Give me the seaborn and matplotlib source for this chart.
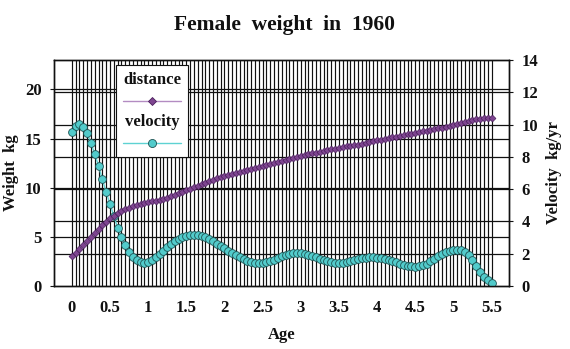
import numpy as np
import seaborn as sns
import matplotlib.pyplot as plt
from matplotlib.lines import Line2D
from matplotlib.offsetbox import AnchoredOffsetbox, VPacker, TextArea, DrawingArea

# ages every 0.05 yr from birth to 5.5 yr (111 categories)
ages = np.round(np.arange(111) * 0.05, 2)

# weight in kg (left axis)
distance = [
    3.05, 3.40, 3.80, 4.20, 4.60, 5.00, 5.40, 5.80, 6.20, 6.55,
    6.90, 7.15, 7.40, 7.60, 7.80, 7.95, 8.10, 8.20, 8.30, 8.40,
    8.50, 8.60, 8.70, 8.80, 8.90, 9.00, 9.15, 9.30, 9.45, 9.60,
    9.75, 9.90, 10.05, 10.20, 10.35, 10.50, 10.65, 10.80, 10.95, 11.05,
    11.20, 11.30, 11.40, 11.50, 11.60, 11.70, 11.80, 11.90, 12.00, 12.10,
    12.20, 12.30, 12.40, 12.50, 12.60, 12.70, 12.80, 12.90, 13.00, 13.10,
    13.20, 13.30, 13.40, 13.50, 13.55, 13.65, 13.75, 13.80, 13.90, 13.95,
    14.05, 14.10, 14.20, 14.25, 14.35, 14.40, 14.50, 14.60, 14.65, 14.75,
    14.85, 14.90, 15.00, 15.05, 15.15, 15.20, 15.30, 15.35, 15.45, 15.50,
    15.60, 15.65, 15.75, 15.80, 15.90, 15.95, 16.05, 16.10, 16.20, 16.25,
    16.35, 16.45, 16.55, 16.65, 16.75, 16.85, 16.95, 17.00, 17.05, 17.05,
    17.10,
]

# velocity in kg/yr (right axis)
velocity = [
    9.56, 9.90, 10.03, 9.87, 9.46, 8.84, 8.18, 7.43, 6.61, 5.80,
    5.08, 4.34, 3.61, 3.06, 2.54, 2.13, 1.82, 1.61, 1.49, 1.45,
    1.49, 1.61, 1.78, 1.98, 2.19, 2.40, 2.60, 2.79, 2.93, 3.04,
    3.10, 3.14, 3.15, 3.14, 3.10, 3.01, 2.89, 2.77, 2.62, 2.48,
    2.33, 2.19, 2.04, 1.90, 1.78, 1.65, 1.55, 1.49, 1.45, 1.42,
    1.45, 1.49, 1.55, 1.63, 1.73, 1.84, 1.92, 1.98, 2.02, 2.04,
    2.02, 1.98, 1.92, 1.86, 1.78, 1.69, 1.63, 1.55, 1.49, 1.45,
    1.42, 1.45, 1.49, 1.55, 1.61, 1.67, 1.71, 1.76, 1.78, 1.78,
    1.76, 1.73, 1.69, 1.63, 1.55, 1.47, 1.38, 1.32, 1.26, 1.22,
    1.20, 1.22, 1.28, 1.38, 1.53, 1.69, 1.86, 1.98, 2.11, 2.19,
    2.23, 2.25, 2.21, 2.13, 1.92, 1.61, 1.26, 0.89, 0.58, 0.35,
    0.20,
]

x_ticks = [0, 0.5, 1, 1.5, 2, 2.5, 3, 3.5, 4, 4.5, 5, 5.5]
x_tick_labels = ['0', '0.5', '1', '1.5', '2', '2.5', '3', '3.5', '4', '4.5', '5', '5.5']
left_ticks = [0, 5, 10, 15, 20]
right_ticks = [0, 2, 4, 6, 8, 10, 12, 14]

sns.set_theme(style='white')
plt.rcParams['font.family'] = ['Liberation Serif', 'DejaVu Serif']
plt.rcParams['font.weight'] = 'bold'

dist_face, dist_edge, dist_line = '#7E4590', '#4A1E5C', '#B38CC2'
vel_face, vel_edge, vel_line = '#52CBCB', '#1E5252', '#5ED2D2'
ink = '#111111'

fig = plt.figure(figsize=(5.7, 3.49), dpi=100)
fig.set_facecolor('#FFFFFF')
ax = fig.add_axes([54 / 570, 1 - 286 / 349, 455 / 570, 226 / 349])
ax2 = ax.twinx()

# ax2 sits underneath and carries the white background, grids and velocity
ax.set_zorder(2)
ax.patch.set_visible(False)
ax2.set_zorder(1)
ax2.patch.set_visible(True)
ax2.patch.set_facecolor('#FFFFFF')

ax.set_xlim(-0.234, 5.729)
ax.set_ylim(0, 23)
ax2.set_ylim(0, 14)

for a in ages:
    ax2.axvline(a, color=ink, linewidth=0.85, zorder=0)
for t in right_ticks[1:-1]:
    ax2.axhline(t, color=ink, linewidth=0.9, zorder=0)
ax2.hlines(left_ticks[1:], 0, 1, transform=ax.get_yaxis_transform(),
           color=ink, linewidth=0.9, zorder=0)

sns.lineplot(x=ages, y=velocity, ax=ax2, color=vel_line, linewidth=1,
             marker='o', markersize=5.6, markerfacecolor=vel_face,
             markeredgecolor=vel_edge, markeredgewidth=0.6, zorder=3)
sns.lineplot(x=ages, y=distance, ax=ax, color=dist_line, linewidth=1,
             marker='D', markersize=3.5, markerfacecolor=dist_face,
             markeredgecolor=dist_edge, markeredgewidth=0.5, zorder=3)

ax.set_xticks(x_ticks)
ax.set_xticklabels(x_tick_labels)
ax.set_yticks(left_ticks)
ax2.set_yticks(right_ticks)
ax.tick_params(axis='x', length=0, pad=10, labelsize=12, labelcolor=ink)
ax.tick_params(axis='y', length=3, width=0.8, pad=6, labelsize=12, direction='out',
               left=True, labelcolor=ink, color=ink)
ax2.tick_params(axis='y', length=3, width=0.8, pad=6, labelsize=12, direction='out',
                right=True, labelcolor=ink, color=ink)
for lab in ax.get_xticklabels() + ax.get_yticklabels() + ax2.get_yticklabels():
    lab.set_fontweight('bold')

for a in (ax, ax2):
    for s in a.spines.values():
        s.set_color(ink)
        s.set_linewidth(1.0)

ax.set_xlabel('Age', fontsize=12, fontweight='bold', color=ink)
ax.xaxis.set_label_coords(0.5, -0.18)
ax.set_ylabel('Weight  kg', fontsize=12, fontweight='bold', color=ink)
ax.yaxis.set_label_coords(-0.076, 0.5)
ax2.set_ylabel('Velocity  kg/yr', fontsize=12, fontweight='bold', rotation=90, color=ink)
ax2.yaxis.set_label_coords(1.081, 0.5)

fig.text(0.5, 1 - 25 / 349, 'Female  weight  in  1960', ha='center', va='center',
         fontsize=15.5, fontweight='bold', color=ink)

# legend: label above its sample, like the original spreadsheet chart
def sample(face, edge, line, marker, ms):
    da = DrawingArea(42, 9, 0, 0)
    da.add_artist(Line2D([0, 42], [4.5, 4.5], color=line, linewidth=1))
    da.add_artist(Line2D([21], [4.5], marker=marker, markersize=ms,
                         markerfacecolor=face, markeredgecolor=edge, markeredgewidth=0.6))
    return da

txt = dict(fontsize=12, fontweight='bold', color=ink)
items = [TextArea('distance', textprops=txt),
         sample(dist_face, dist_edge, dist_line, 'D', 3.6),
         TextArea('velocity', textprops=txt),
         sample(vel_face, vel_edge, vel_line, 'o', 5.8)]
pack = VPacker(children=items, align='center', pad=0, sep=5)
box = AnchoredOffsetbox(loc='upper left', child=pack, pad=0.45, borderpad=0,
                        frameon=True, bbox_to_anchor=(0.136, 0.978),
                        bbox_transform=ax.transAxes)
box.patch.set_edgecolor(ink)
box.patch.set_linewidth(0.8)
box.patch.set_facecolor('#FFFFFF')
box.set_zorder(5)
ax.add_artist(box)

plt.savefig('out.png', dpi=100)
